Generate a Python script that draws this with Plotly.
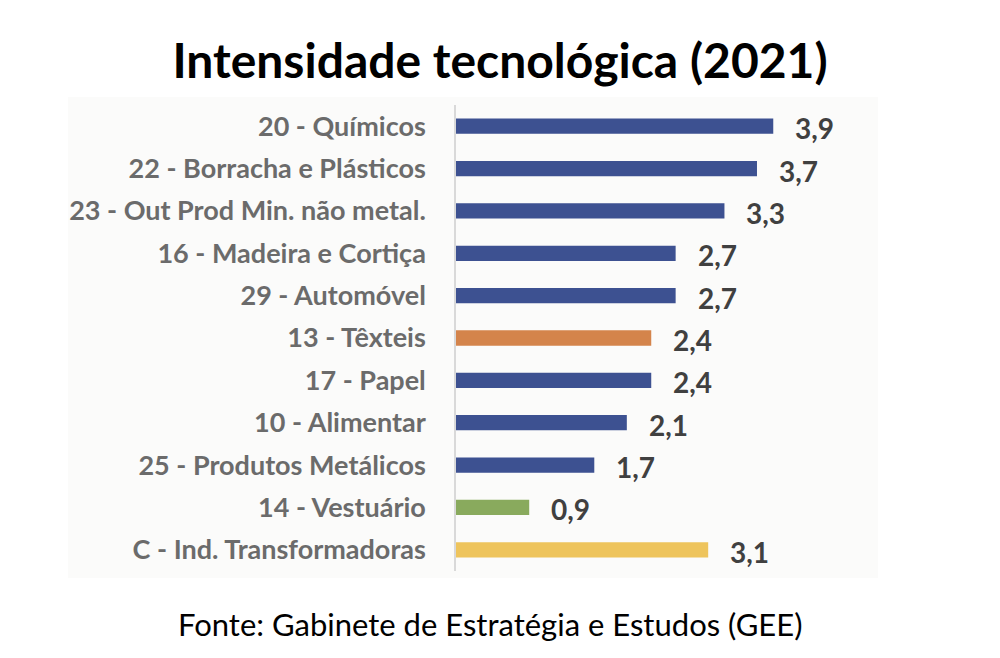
import plotly.graph_objects as go

categories = [
    "20 - Químicos",
    "22 - Borracha e Plásticos",
    "23 - Out Prod Min. não metal.",
    "16 - Madeira e Cortiça",
    "29 - Automóvel",
    "13 - Têxteis",
    "17 - Papel",
    "10 - Alimentar",
    "25 - Produtos Metálicos",
    "14 - Vestuário",
    "C - Ind. Transformadoras",
]
values = [3.9, 3.7, 3.3, 2.7, 2.7, 2.4, 2.4, 2.1, 1.7, 0.9, 3.1]
value_labels = ["3,9", "3,7", "3,3", "2,7", "2,7", "2,4", "2,4", "2,1", "1,7", "0,9", "3,1"]

BLUE, ORANGE, GREEN, YELLOW = "#3D5191", "#D4844B", "#89AA5D", "#EEC45C"
bar_colors = [BLUE, BLUE, BLUE, BLUE, BLUE, ORANGE, BLUE, BLUE, BLUE, GREEN, YELLOW]

W, H = 1000, 658
L, R, T, B = 456, 134, 105, 87
plot_w = W - L - R
plot_h = H - T - B

fig = go.Figure()
fig.add_trace(go.Bar(
    x=values,
    y=categories,
    orientation="h",
    marker=dict(color=bar_colors, line=dict(width=0)),
    width=0.36,
    hoverinfo="skip",
))

for v, cat, lab in zip(values, categories, value_labels):
    fig.add_annotation(
        x=v, y=cat, xref="x", yref="y",
        text=lab, showarrow=False,
        xanchor="left", yanchor="middle",
        xshift=20, yshift=-2,
        font=dict(family="Lato", size=28, color="#404040", weight="bold"),
    )

fig.add_shape(
    type="rect", xref="paper", yref="paper",
    x0=(68 - L) / plot_w, x1=(878 - L) / plot_w,
    y0=(H - B - 578) / plot_h, y1=(H - B - 97) / plot_h,
    fillcolor="#FBFBFA", line=dict(width=0), layer="below",
)

fig.update_layout(
    width=W, height=H,
    margin=dict(l=L, r=R, t=T, b=B),
    paper_bgcolor="white",
    plot_bgcolor="rgba(0,0,0,0)",
    showlegend=False,
    title=dict(
        text="<b>Intensidade tecnológica (2021)</b>",
        x=0.5, xref="container", xanchor="center",
        y=1 - 61 / H, yref="container", yanchor="middle",
        font=dict(family="Lato", size=48, color="#000000"),
    ),
    xaxis=dict(
        range=[0, 5.04],
        visible=False,
        fixedrange=True,
    ),
    yaxis=dict(
        autorange="reversed",
        showline=True, linecolor="#D9D9D9", linewidth=1.5,
        showgrid=False, zeroline=False,
        ticks="", ticklabelstandoff=23,
        tickfont=dict(family="Lato", size=27, color="#6B6B6B", weight="bold"),
    ),
)

fig.add_annotation(
    x=(490 - L) / plot_w, y=(H - B - 624) / plot_h, xref="paper", yref="paper",
    xanchor="center", yanchor="middle",
    text="Fonte: Gabinete de Estratégia e Estudos (GEE)",
    showarrow=False,
    font=dict(family="Lato", size=31, color="#000000"),
)

fig.write_html("out.html")
